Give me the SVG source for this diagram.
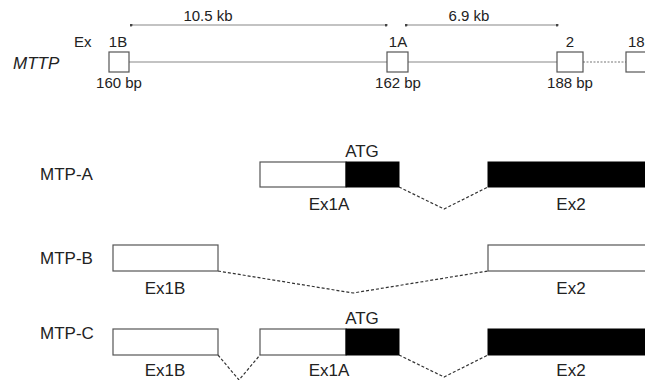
<svg xmlns="http://www.w3.org/2000/svg" width="645" height="380" viewBox="0 0 645 380">
<defs>
<marker id="dot" viewBox="0 0 4 4" refX="2" refY="2" markerWidth="3" markerHeight="3" markerUnits="userSpaceOnUse"><circle cx="2" cy="2" r="2" fill="#444"/></marker>
</defs>
<style>
text{font-family:"Liberation Sans",Arial,sans-serif;font-size:15px;fill:#222}
.c{text-anchor:middle}
.it{font-style:italic;font-size:17px}
.lb{font-size:17px}
.bx{fill:#fff;stroke:#555;stroke-width:1.2}
.blk{fill:#000;stroke:#000;stroke-width:1}
.ln{stroke:#888;stroke-width:1.2;fill:none}
.ds{stroke:#333;stroke-width:1.2;fill:none;stroke-dasharray:3,2}
.dim{stroke:#888;stroke-width:1.2;fill:none;marker-start:url(#dot);marker-end:url(#dot)}
</style>
<rect width="645" height="380" fill="#fff"/>
<g id="connectors">
<line class="dim" x1="131" y1="25" x2="386" y2="25"/>
<line class="dim" x1="406" y1="25" x2="557" y2="25"/>
<line class="ln" x1="129" y1="62" x2="387" y2="62"/>
<line class="ln" x1="408" y1="62" x2="557" y2="62"/>
<line class="ds" x1="583" y1="62" x2="626" y2="62" style="stroke:#777;stroke-dasharray:2,1.5"/>
<polyline class="ds" points="399,187 444,209 488,187"/>
<polyline class="ds" points="218,271 353,293 488,271"/>
<polyline class="ds" points="218,355 239,380 260,355"/>
<polyline class="ds" points="399,355 444,377 488,355"/>
</g>
<g id="gene">
<text x="208" y="21" class="c">10.5 kb</text>
<text x="469" y="21" class="c">6.9 kb</text>
<text x="13" y="69" class="it">MTTP</text>
<text x="74" y="47">Ex</text>
<g id="ex1B"><rect class="bx" x="109" y="52" width="20" height="20"/><text x="118" y="47" class="c">1B</text><text x="119" y="88" class="c">160 bp</text></g>
<g id="ex1A"><rect class="bx" x="387" y="52" width="21" height="20"/><text x="398" y="47" class="c">1A</text><text x="398" y="88" class="c">162 bp</text></g>
<g id="ex2"><rect class="bx" x="557" y="52" width="26" height="20"/><text x="570" y="47" class="c">2</text><text x="570" y="88" class="c">188 bp</text></g>
<g id="ex18"><rect class="bx" x="626" y="52" width="30" height="20"/><text x="628" y="47">18</text></g>
</g>
<g id="mtpA">
<text x="40" y="180" class="lb">MTP-A</text>
<rect class="bx" x="260" y="162" width="86" height="25"/>
<rect class="blk" x="346" y="162" width="53" height="25"/>
<rect class="blk" x="488" y="162" width="160" height="25"/>
<text x="362" y="157" class="c lb">ATG</text>
<text x="329" y="210" class="c lb">Ex1A</text>
<text x="571" y="210" class="c lb">Ex2</text>
</g>
<g id="mtpB">
<text x="40" y="264" class="lb">MTP-B</text>
<rect class="bx" x="113" y="245" width="105" height="26"/>
<rect class="bx" x="488" y="245" width="160" height="26"/>
<text x="165" y="294" class="c lb">Ex1B</text>
<text x="571" y="294" class="c lb">Ex2</text>
</g>
<g id="mtpC">
<text x="40" y="339" class="lb">MTP-C</text>
<rect class="bx" x="113" y="329" width="105" height="26"/>
<rect class="bx" x="260" y="329" width="86" height="26"/>
<rect class="blk" x="346" y="329" width="53" height="26"/>
<rect class="blk" x="488" y="329" width="160" height="26"/>
<text x="362" y="324" class="c lb">ATG</text>
<text x="165" y="376" class="c lb">Ex1B</text>
<text x="329" y="376" class="c lb">Ex1A</text>
<text x="571" y="376" class="c lb">Ex2</text>
</g>
</svg>
